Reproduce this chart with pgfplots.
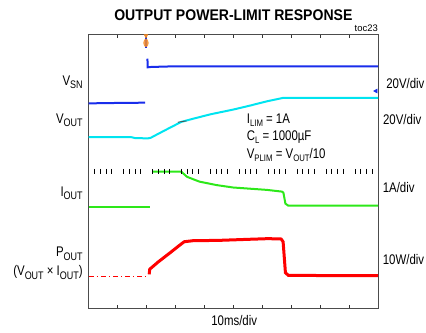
\documentclass[border=0pt]{standalone}
\usepackage{fontspec}
\setmainfont[FakeStretch=0.82]{Liberation Sans}
\newfontfamily\titlefont[FakeStretch=0.91]{Liberation Sans}
\newfontfamily\plainfont{Liberation Sans}
\usepackage{pgfplots}
\pgfplotsset{compat=1.18}
\definecolor{vsn}{RGB}{25,45,235}
\definecolor{vout}{RGB}{0,228,240}
\definecolor{iout}{RGB}{45,232,25}
\definecolor{pout}{RGB}{255,0,0}
\definecolor{trig}{RGB}{245,140,40}
\newcommand\sub[1]{\raisebox{-0.24em}{\fontsize{11}{12}\selectfont #1}}
\newcommand\asub[1]{\raisebox{-0.26em}{\fontsize{9.5}{10}\selectfont #1}}
\begin{document}
\begin{tikzpicture}
\useasboundingbox (-88.7bp,-24.3bp) rectangle (337.3bp,308.7bp);
\begin{axis}[
  at={(0,0)}, anchor=south west,
  scale only axis, width=289.3bp, height=274.7bp,
  xmin=0, xmax=10, ymin=0, ymax=8,
  xtick={1,...,9}, xticklabels={}, ytick=\empty,
  tick align=inside, major tick length=3.8bp,
  tick style={black!80, line width=0.7bp},
  axis line style={black!70, line width=0.8bp},
  clip=false,
  font=\fontsize{14}{16}\selectfont,
]
% centre graticule ticks
\addplot[only marks, mark=|, mark size=2.6bp, black, mark options={line width=0.7bp}] coordinates {
(0.2,4)(0.4,4)(0.6,4)(0.8,4)(1.2,4)(1.4,4)(1.6,4)(1.8,4)(2.2,4)(2.4,4)(2.6,4)(2.8,4)
(3.2,4)(3.4,4)(3.6,4)(3.8,4)(4.2,4)(4.4,4)(4.6,4)(4.8,4)(5.2,4)(5.4,4)(5.6,4)(5.8,4)
(6.2,4)(6.4,4)(6.6,4)(6.8,4)(7.2,4)(7.4,4)(7.6,4)(7.8,4)(8.2,4)(8.4,4)(8.6,4)(8.8,4)
(9.2,4)(9.4,4)(9.6,4)(9.8,4)};
% VSN
\addplot[vsn, line width=2bp] coordinates {(0,5.98)(0.8,5.99)(1.95,6.0)};
\addplot[vsn, line width=2bp] coordinates {(2.03,7.28)(2.04,7.03)(2.15,7.04)(3,7.06)(6,7.06)(10,7.06)};
% VOUT
\addplot[vout, line width=2bp] coordinates {(0,5.0)(1.45,5.0)(1.6,4.97)(2.05,4.96)(2.15,4.98)(2.6,5.18)(3.2,5.44)(3.6,5.53)(4.2,5.66)(5.0,5.80)(5.6,5.92)(6.16,6.04)(6.5,6.10)(6.72,6.14)(10,6.14)};
\addplot[black!70, line width=0.8bp] coordinates {(3.08,5.43)(3.38,5.47)};
% IOUT
\addplot[iout, line width=2bp] coordinates {(0,2.97)(2.12,2.97)};
\addplot[iout, line width=2bp] coordinates {(2.19,3.99)(3.2,3.99)(3.4,3.84)(3.83,3.70)(4.42,3.60)(4.99,3.53)(6.16,3.46)(6.68,3.41)(6.73,3.38)(6.80,3.06)(6.9,3.0)(10,3.0)};
% POUT
\addplot[pout, line width=0.9bp, dash pattern=on 5bp off 3bp on 1.2bp off 3bp] coordinates {(0,0.95)(1.98,0.95)};
\addplot[pout, line width=3bp] coordinates {(2.09,1.0)(2.11,1.15)(2.4,1.36)(2.8,1.62)(3.1,1.82)(3.3,1.95)(3.6,1.98)(4.5,1.99)(5.5,2.02)(6.2,2.04)(6.65,2.03)(6.72,1.95)(6.8,1.05)(6.9,0.97)(10,0.96)};
% trigger marker
\addplot[vsn, line width=1bp] coordinates {(1.98,7.93)(1.98,7.6)};
\addplot[only marks, mark=*, trig, mark size=4bp, mark options={xscale=0.6, fill opacity=0.85, draw opacity=0.85}] coordinates {(1.98,7.74)};
\addplot[only marks, mark=triangle*, trig, mark size=2.2bp, mark options={rotate=180}] coordinates {(1.98,7.95)};
\addplot[vsn, line width=0.8bp] coordinates {(1.98,7.88)(1.98,7.6)};
% reference marker
\addplot[only marks, mark=triangle*, vsn, mark size=2.4bp, mark options={rotate=90}] coordinates {(9.93,6.34)};
% labels left
\node[anchor=base east, inner sep=0] at (axis cs:-0.2,6.51) {V\sub{SN}};
\node[anchor=base east, inner sep=0] at (axis cs:-0.2,5.39) {V\sub{OUT}};
\node[anchor=base east, inner sep=0] at (axis cs:-0.2,3.28) {I\sub{OUT}};
\node[anchor=base east, inner sep=0] at (axis cs:-0.2,1.51) {P\sub{OUT}};
\node[anchor=base east, inner sep=0] at (axis cs:-0.2,0.96) {(V\sub{OUT} × I\sub{OUT})};
% labels right
\node[anchor=base west, inner sep=0] at (axis cs:10.28,6.42) {20V/div};
\node[anchor=base west, inner sep=0] at (axis cs:10.17,5.35) {20V/div};
\node[anchor=base west, inner sep=0] at (axis cs:10.16,3.38) {1A/div};
\node[anchor=base west, inner sep=0] at (axis cs:10.16,1.30) {10W/div};
% annotation
\node[anchor=base west, inner sep=0] at (axis cs:5.46,5.40) {I\asub{LIM} = 1A};
\node[anchor=base west, inner sep=0] at (axis cs:5.46,4.91) {C\asub{L} = 1000µF};
\node[anchor=base west, inner sep=0] at (axis cs:5.46,4.38) {V\asub{PLIM} = V\asub{OUT}/10};
% bottom
\node[anchor=base, inner sep=0] at (axis cs:5.03,-0.48) {10ms/div};
% title
\node[anchor=base, inner sep=0] at (axis cs:5.0,8.39) {\titlefont\bfseries\fontsize{15.5}{17}\selectfont OUTPUT POWER-LIMIT RESPONSE};
\node[anchor=base east, inner sep=0] at (axis cs:10.0,8.07) {\plainfont\fontsize{9.5}{10}\selectfont toc23};
\end{axis}
\end{tikzpicture}
\end{document}
